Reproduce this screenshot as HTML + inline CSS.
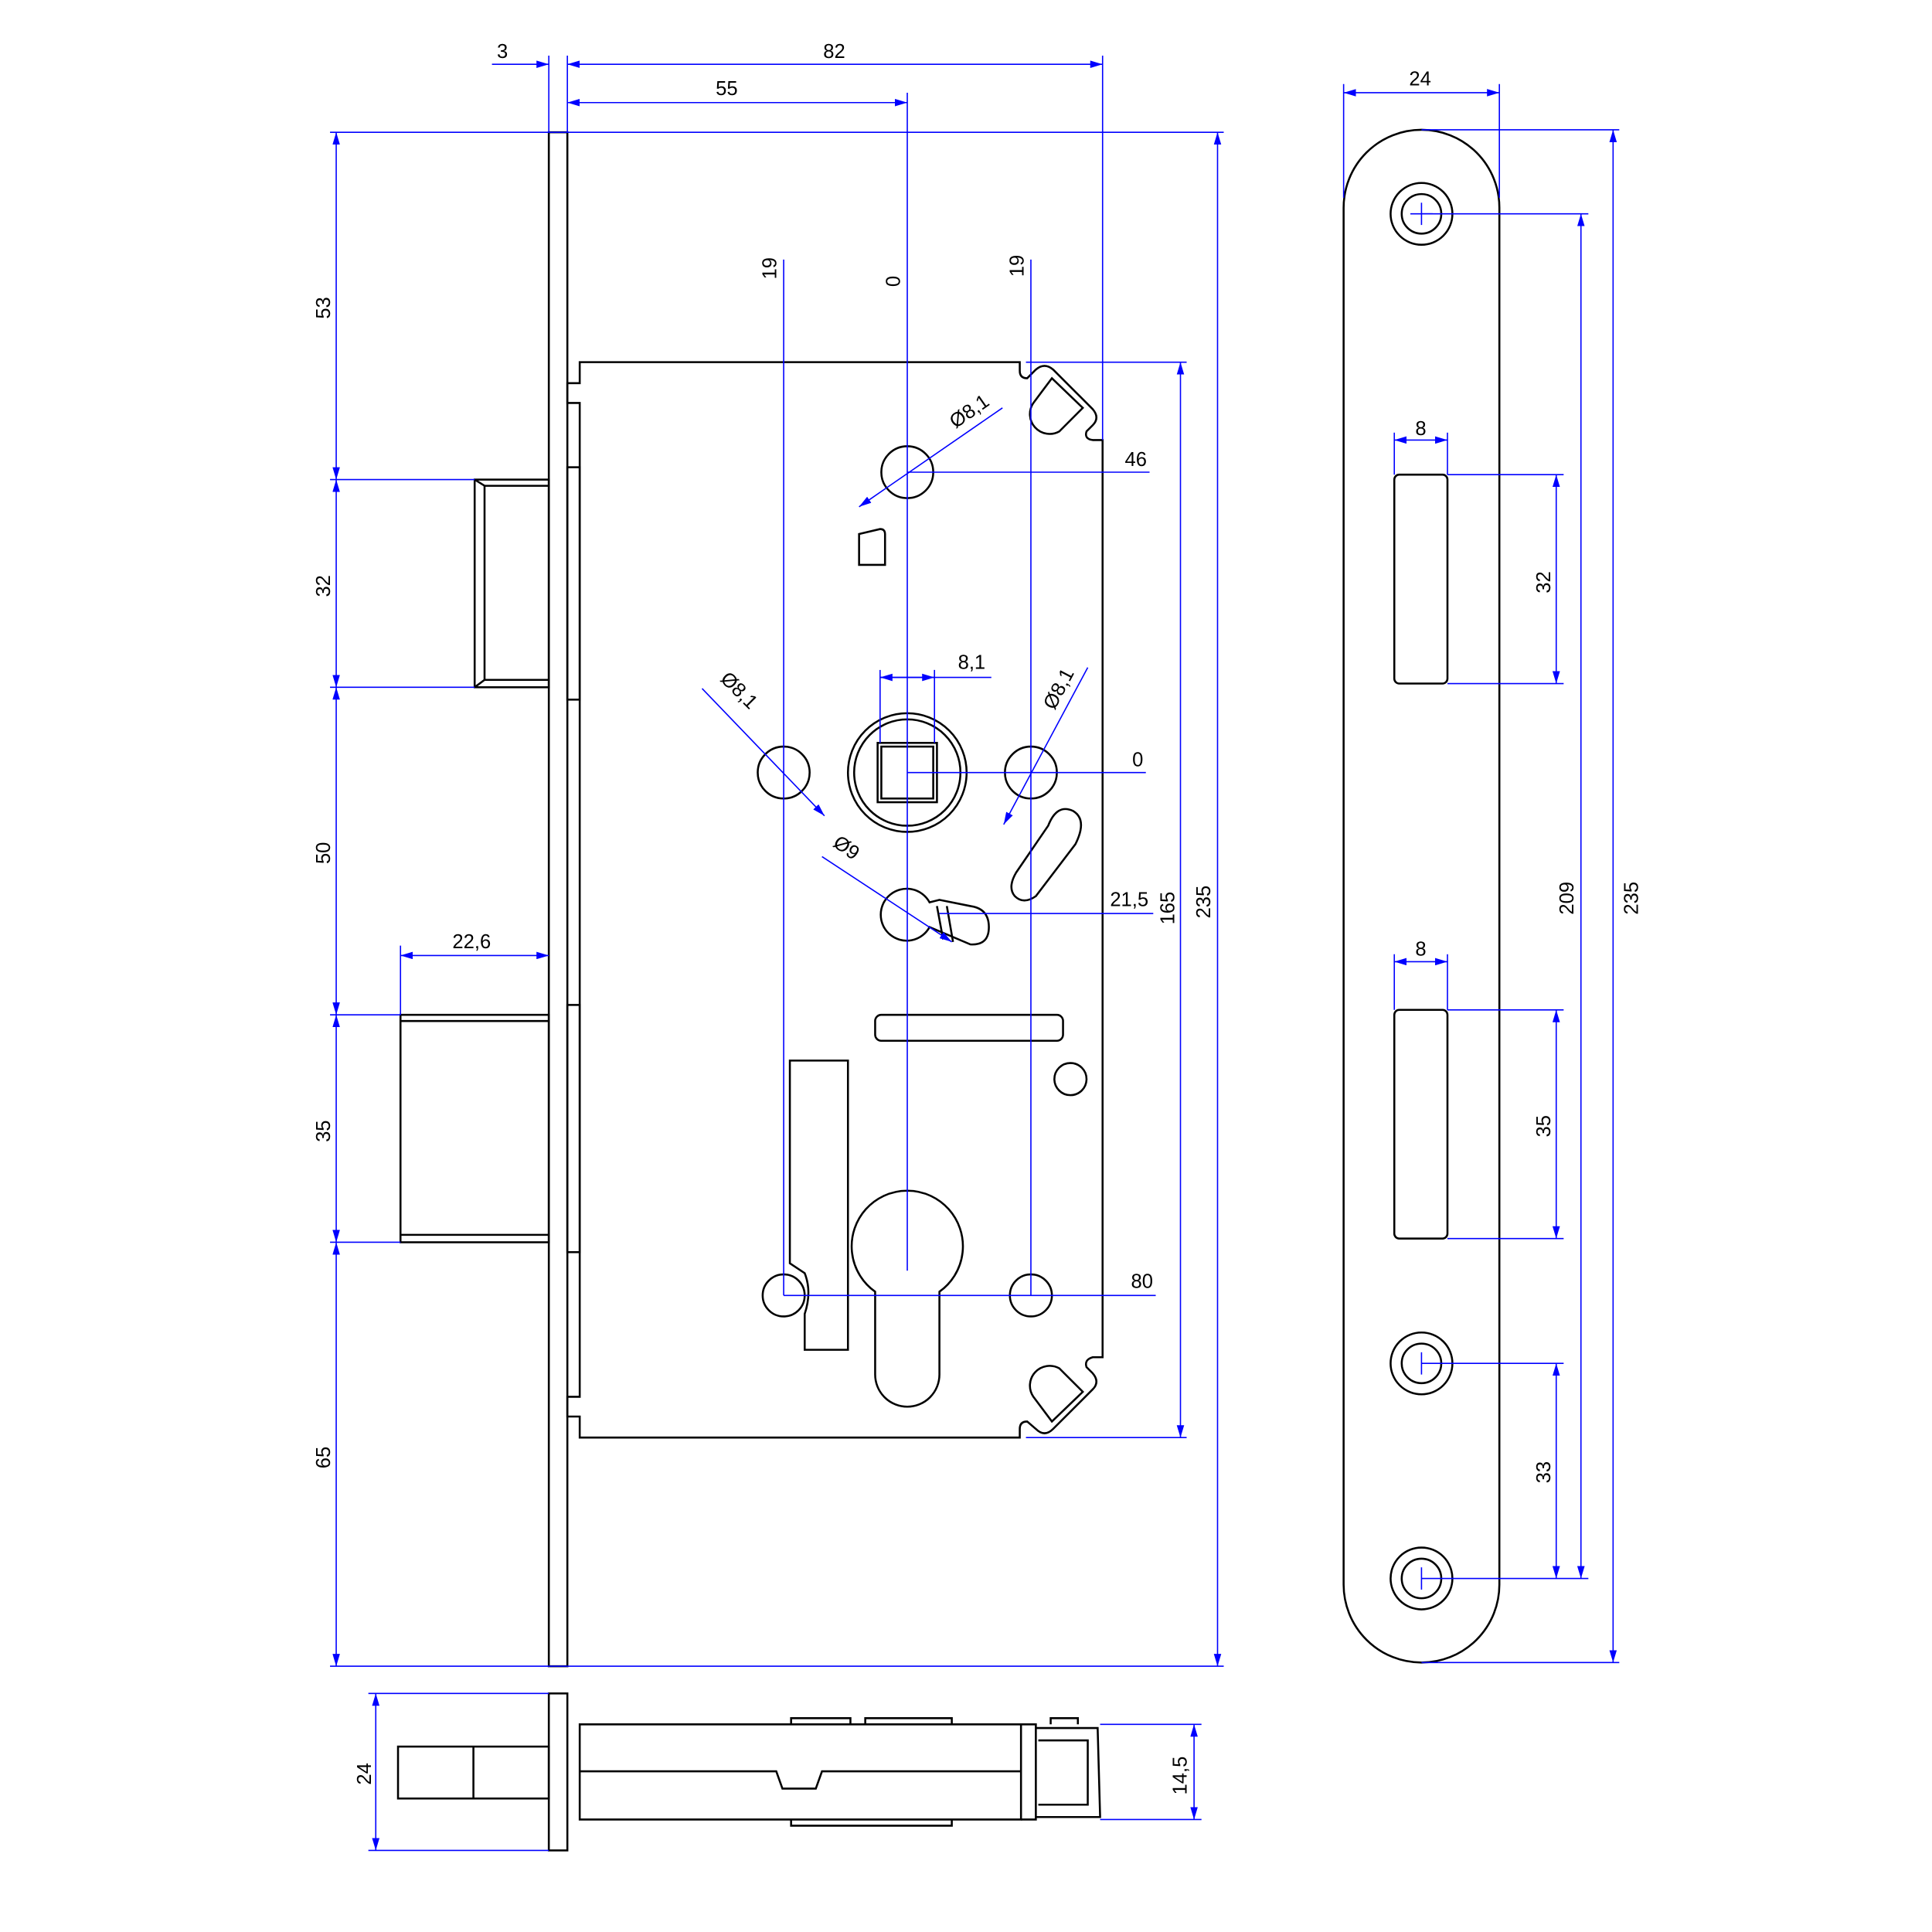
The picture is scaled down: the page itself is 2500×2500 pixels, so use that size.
<!DOCTYPE html>
<html><head><meta charset="utf-8"><style>
html,body{margin:0;padding:0;background:#fff}
svg{display:block}
text{font-family:"Liberation Sans",sans-serif;font-size:16px;fill:#000}
</style></head><body>
<svg width="2500" height="2500" viewBox="0 0 1563 1563" xmlns="http://www.w3.org/2000/svg">
<defs>
<marker id="a" viewBox="0 0 10 6" refX="10" refY="3" markerWidth="10" markerHeight="6" orient="auto-start-reverse" markerUnits="userSpaceOnUse"><path d="M0,0 L10,3 L0,6 z" fill="#00f"/></marker>
</defs>
<g fill="none" stroke="#000" stroke-width="1.6">
<rect x="444" y="107" width="15" height="1241"/>
<rect x="459" y="378" width="10" height="188"/>
<rect x="459" y="813" width="10" height="200"/>
<rect x="384" y="388" width="60" height="168"/>
<line x1="392" y1="393" x2="392" y2="550"/><line x1="384" y1="388" x2="392" y2="393"/><line x1="384" y1="556" x2="392" y2="550"/>
<line x1="392" y1="393" x2="444" y2="393"/><line x1="392" y1="550" x2="444" y2="550"/>
<rect x="324" y="821" width="120" height="184"/>
<line x1="324" y1="826" x2="444" y2="826"/><line x1="324" y1="999" x2="444" y2="999"/>
<path d="M469,293 L825,293 L825,300 Q825,306 831,306 L838,299 Q845,293 852,299 L884,331 Q890,338 884,344 L879,349 Q877,355 884,356 L892,356 L892,1098 L884,1098 Q877,1100 879,1106 L884,1111 Q890,1118 884,1124 L852,1156 Q845,1163 838,1156 L831,1150 Q825,1150 825,1156 L825,1163 L469,1163 L469,1146 L459,1146 L459,1130 L469,1130 L469,326 L459,326 L459,310 L469,310 Z"/>
<path d="M851,306 L876,330 L857,349 A16,16 0 0 1 836,326 Z"/>
<path d="M851,1150 L876,1126 L857,1107 A16,16 0 0 0 836,1130 Z"/>
<circle cx="734" cy="382" r="21"/>
<path d="M695,457 L695,432 L712,428 Q716,428 716,432 L716,457 Z"/>
<circle cx="734" cy="625" r="48"/><circle cx="734" cy="625" r="43"/>
<rect x="710" y="601" width="48" height="48"/><rect x="713" y="604" width="42" height="42"/>
<circle cx="634" cy="625" r="21"/><circle cx="834" cy="625" r="21"/>
<path d="M848,668 Q855,650 868,656 Q880,663 870,683 L838,725 Q828,732 821,725 Q815,718 822,706 Z"/>
<path d="M752,730 A21,21 0 1 0 752,750 L785,764 Q800,765 800,750 Q800,735 785,733 L760,728 Z"/>
<path d="M758,733 L763,760 M766,733 L771,762"/>
<rect x="708" y="821" width="152" height="21" rx="5"/>
<circle cx="866" cy="873" r="13"/>
<path d="M639,858 L686,858 L686,1092 L651,1092 L651,1063 Q657,1045 651,1030 L639,1022 Z"/>
<path d="M708,1045 A45,45 0 1 1 760,1045 L760,1112 A26,26 0 0 1 708,1112 Z"/>
<circle cx="634" cy="1048" r="17"/><circle cx="834" cy="1048" r="17"/>
<rect x="1087" y="105" width="126" height="1240" rx="63"/>
<circle cx="1150" cy="173" r="25"/><circle cx="1150" cy="173" r="16"/>
<circle cx="1150" cy="1103" r="25"/><circle cx="1150" cy="1103" r="16"/>
<circle cx="1150" cy="1277" r="25"/><circle cx="1150" cy="1277" r="16"/>
<rect x="1128" y="384" width="43" height="169" rx="4"/>
<rect x="1128" y="817" width="43" height="185" rx="4"/>
<rect x="444" y="1370" width="15" height="127"/>
<rect x="322" y="1413" width="122" height="42"/><line x1="383" y1="1413" x2="383" y2="1455"/>
<path d="M469,1395 L826,1395 L826,1472 L469,1472 Z"/>
<path d="M469,1433 L628,1433 L633,1447 L660,1447 L665,1433 L826,1433"/>
<path d="M826,1395 L838,1395 L838,1472 L826,1472 M838,1398 L888,1398 L890,1470 L838,1470 M840,1408 L880,1408 L880,1460 L840,1460"/>
<path d="M640,1395 L640,1390 L688,1390 L688,1395 M700,1395 L700,1390 L770,1390 L770,1395 M640,1472 L640,1477 L770,1477 L770,1472 M850,1395 L850,1390 L872,1390 L872,1395"/>
</g>
<g fill="none" stroke="#00f" stroke-width="1">
<line x1="444" y1="45" x2="444" y2="107"/><line x1="459" y1="45" x2="459" y2="107"/>
<line x1="398" y1="52" x2="444" y2="52" marker-end="url(#a)"/>
<line x1="459" y1="52" x2="892" y2="52" marker-start="url(#a)" marker-end="url(#a)"/>
<line x1="892" y1="45" x2="892" y2="356"/>
<line x1="459" y1="83" x2="734" y2="83" marker-start="url(#a)" marker-end="url(#a)"/>
<line x1="734" y1="75" x2="734" y2="1028"/>
<line x1="634" y1="210" x2="634" y2="1048"/><line x1="834" y1="210" x2="834" y2="1048"/>
<line x1="267" y1="107" x2="990" y2="107"/><line x1="267" y1="1348" x2="990" y2="1348"/>
<line x1="267" y1="388" x2="384" y2="388"/><line x1="267" y1="556" x2="384" y2="556"/>
<line x1="267" y1="821" x2="324" y2="821"/><line x1="267" y1="1005" x2="324" y2="1005"/>
<line x1="272" y1="107" x2="272" y2="388" marker-start="url(#a)" marker-end="url(#a)"/>
<line x1="272" y1="388" x2="272" y2="556" marker-start="url(#a)" marker-end="url(#a)"/>
<line x1="272" y1="556" x2="272" y2="821" marker-start="url(#a)" marker-end="url(#a)"/>
<line x1="272" y1="821" x2="272" y2="1005" marker-start="url(#a)" marker-end="url(#a)"/>
<line x1="272" y1="1005" x2="272" y2="1348" marker-start="url(#a)" marker-end="url(#a)"/>
<line x1="985" y1="107" x2="985" y2="1348" marker-start="url(#a)" marker-end="url(#a)"/>
<line x1="830" y1="293" x2="960" y2="293"/><line x1="830" y1="1163" x2="960" y2="1163"/>
<line x1="955" y1="293" x2="955" y2="1163" marker-start="url(#a)" marker-end="url(#a)"/>
<line x1="324" y1="773" x2="444" y2="773" marker-start="url(#a)" marker-end="url(#a)"/>
<line x1="324" y1="765" x2="324" y2="821"/>
<line x1="734" y1="382" x2="930" y2="382"/>
<line x1="734" y1="625" x2="927" y2="625"/>
<line x1="760" y1="739" x2="933" y2="739"/>
<line x1="634" y1="1048" x2="935" y2="1048"/>
<line x1="712" y1="548" x2="802" y2="548"/>
<line x1="712" y1="542" x2="712" y2="601"/><line x1="756" y1="542" x2="756" y2="601"/>
<line x1="712" y1="548" x2="756" y2="548" marker-start="url(#a)" marker-end="url(#a)"/>
<line x1="811" y1="330" x2="695" y2="410" marker-end="url(#a)"/>
<line x1="568" y1="557" x2="667" y2="660" marker-end="url(#a)"/>
<line x1="880" y1="540" x2="812" y2="667" marker-end="url(#a)"/>
<line x1="665" y1="693" x2="770" y2="762" marker-end="url(#a)"/>
<line x1="1087" y1="68" x2="1087" y2="160"/><line x1="1213" y1="68" x2="1213" y2="160"/>
<line x1="1087" y1="75" x2="1213" y2="75" marker-start="url(#a)" marker-end="url(#a)"/>
<line x1="1150" y1="105" x2="1310" y2="105"/><line x1="1150" y1="1345" x2="1310" y2="1345"/>
<line x1="1305" y1="105" x2="1305" y2="1345" marker-start="url(#a)" marker-end="url(#a)"/>
<line x1="1150" y1="173" x2="1285" y2="173"/><line x1="1150" y1="1277" x2="1285" y2="1277"/>
<line x1="1279" y1="173" x2="1279" y2="1277" marker-start="url(#a)" marker-end="url(#a)"/>
<line x1="1171" y1="384" x2="1265" y2="384"/><line x1="1171" y1="553" x2="1265" y2="553"/>
<line x1="1259" y1="384" x2="1259" y2="553" marker-start="url(#a)" marker-end="url(#a)"/>
<line x1="1171" y1="817" x2="1265" y2="817"/><line x1="1171" y1="1002" x2="1265" y2="1002"/>
<line x1="1259" y1="817" x2="1259" y2="1002" marker-start="url(#a)" marker-end="url(#a)"/>
<line x1="1150" y1="1103" x2="1265" y2="1103"/>
<line x1="1259" y1="1103" x2="1259" y2="1277" marker-start="url(#a)" marker-end="url(#a)"/>
<line x1="1128" y1="350" x2="1128" y2="384"/><line x1="1171" y1="350" x2="1171" y2="384"/>
<line x1="1128" y1="356" x2="1171" y2="356" marker-start="url(#a)" marker-end="url(#a)"/>
<line x1="1128" y1="772" x2="1128" y2="817"/><line x1="1171" y1="772" x2="1171" y2="817"/>
<line x1="1128" y1="778" x2="1171" y2="778" marker-start="url(#a)" marker-end="url(#a)"/>
<line x1="1141" y1="173" x2="1159" y2="173"/><line x1="1150" y1="164" x2="1150" y2="182"/>
<line x1="1150" y1="1094" x2="1150" y2="1112"/><line x1="1150" y1="1268" x2="1150" y2="1286"/>
<line x1="298" y1="1370" x2="444" y2="1370"/><line x1="298" y1="1497" x2="444" y2="1497"/>
<line x1="304" y1="1370" x2="304" y2="1497" marker-start="url(#a)" marker-end="url(#a)"/>
<line x1="890" y1="1395" x2="972" y2="1395"/><line x1="890" y1="1472" x2="972" y2="1472"/>
<line x1="966" y1="1395" x2="966" y2="1472" marker-start="url(#a)" marker-end="url(#a)"/>
</g>
<g>
<text x="402" y="47">3</text><text x="666" y="47">82</text><text x="579" y="77">55</text>
<text x="910" y="377">46</text><text x="916" y="620">0</text><text x="898" y="733">21,5</text><text x="915" y="1042">80</text>
<text x="775" y="541">8,1</text><text x="366" y="767">22,6</text>
<text x="1140" y="69">24</text><text x="1145" y="352">8</text><text x="1145" y="773">8</text>
<text transform="translate(267,258) rotate(-90)">53</text>
<text transform="translate(267,483) rotate(-90)">32</text>
<text transform="translate(267,699) rotate(-90)">50</text>
<text transform="translate(267,924) rotate(-90)">35</text>
<text transform="translate(267,1188) rotate(-90)">65</text>
<text transform="translate(979,743) rotate(-90)">235</text>
<text transform="translate(950,748) rotate(-90)">165</text>
<text transform="translate(628,226) rotate(-90)">19</text>
<text transform="translate(728,232) rotate(-90)">0</text>
<text transform="translate(828,224) rotate(-90)">19</text>
<text transform="translate(1254,480) rotate(-90)">32</text>
<text transform="translate(1254,920) rotate(-90)">35</text>
<text transform="translate(1254,1200) rotate(-90)">33</text>
<text transform="translate(1273,740) rotate(-90)">209</text>
<text transform="translate(1325,740) rotate(-90)">235</text>
<text transform="translate(300,1444) rotate(-90)">24</text>
<text transform="translate(960,1452) rotate(-90)">14,5</text>
<text transform="translate(773,347) rotate(-35)">Ø8,1</text>
<text transform="translate(582,550) rotate(45)">Ø8,1</text>
<text transform="translate(853,575) rotate(-62)">Ø8,1</text>
<text transform="translate(673,684) rotate(35)">Ø9</text>
</g>
</svg>
</body></html>
